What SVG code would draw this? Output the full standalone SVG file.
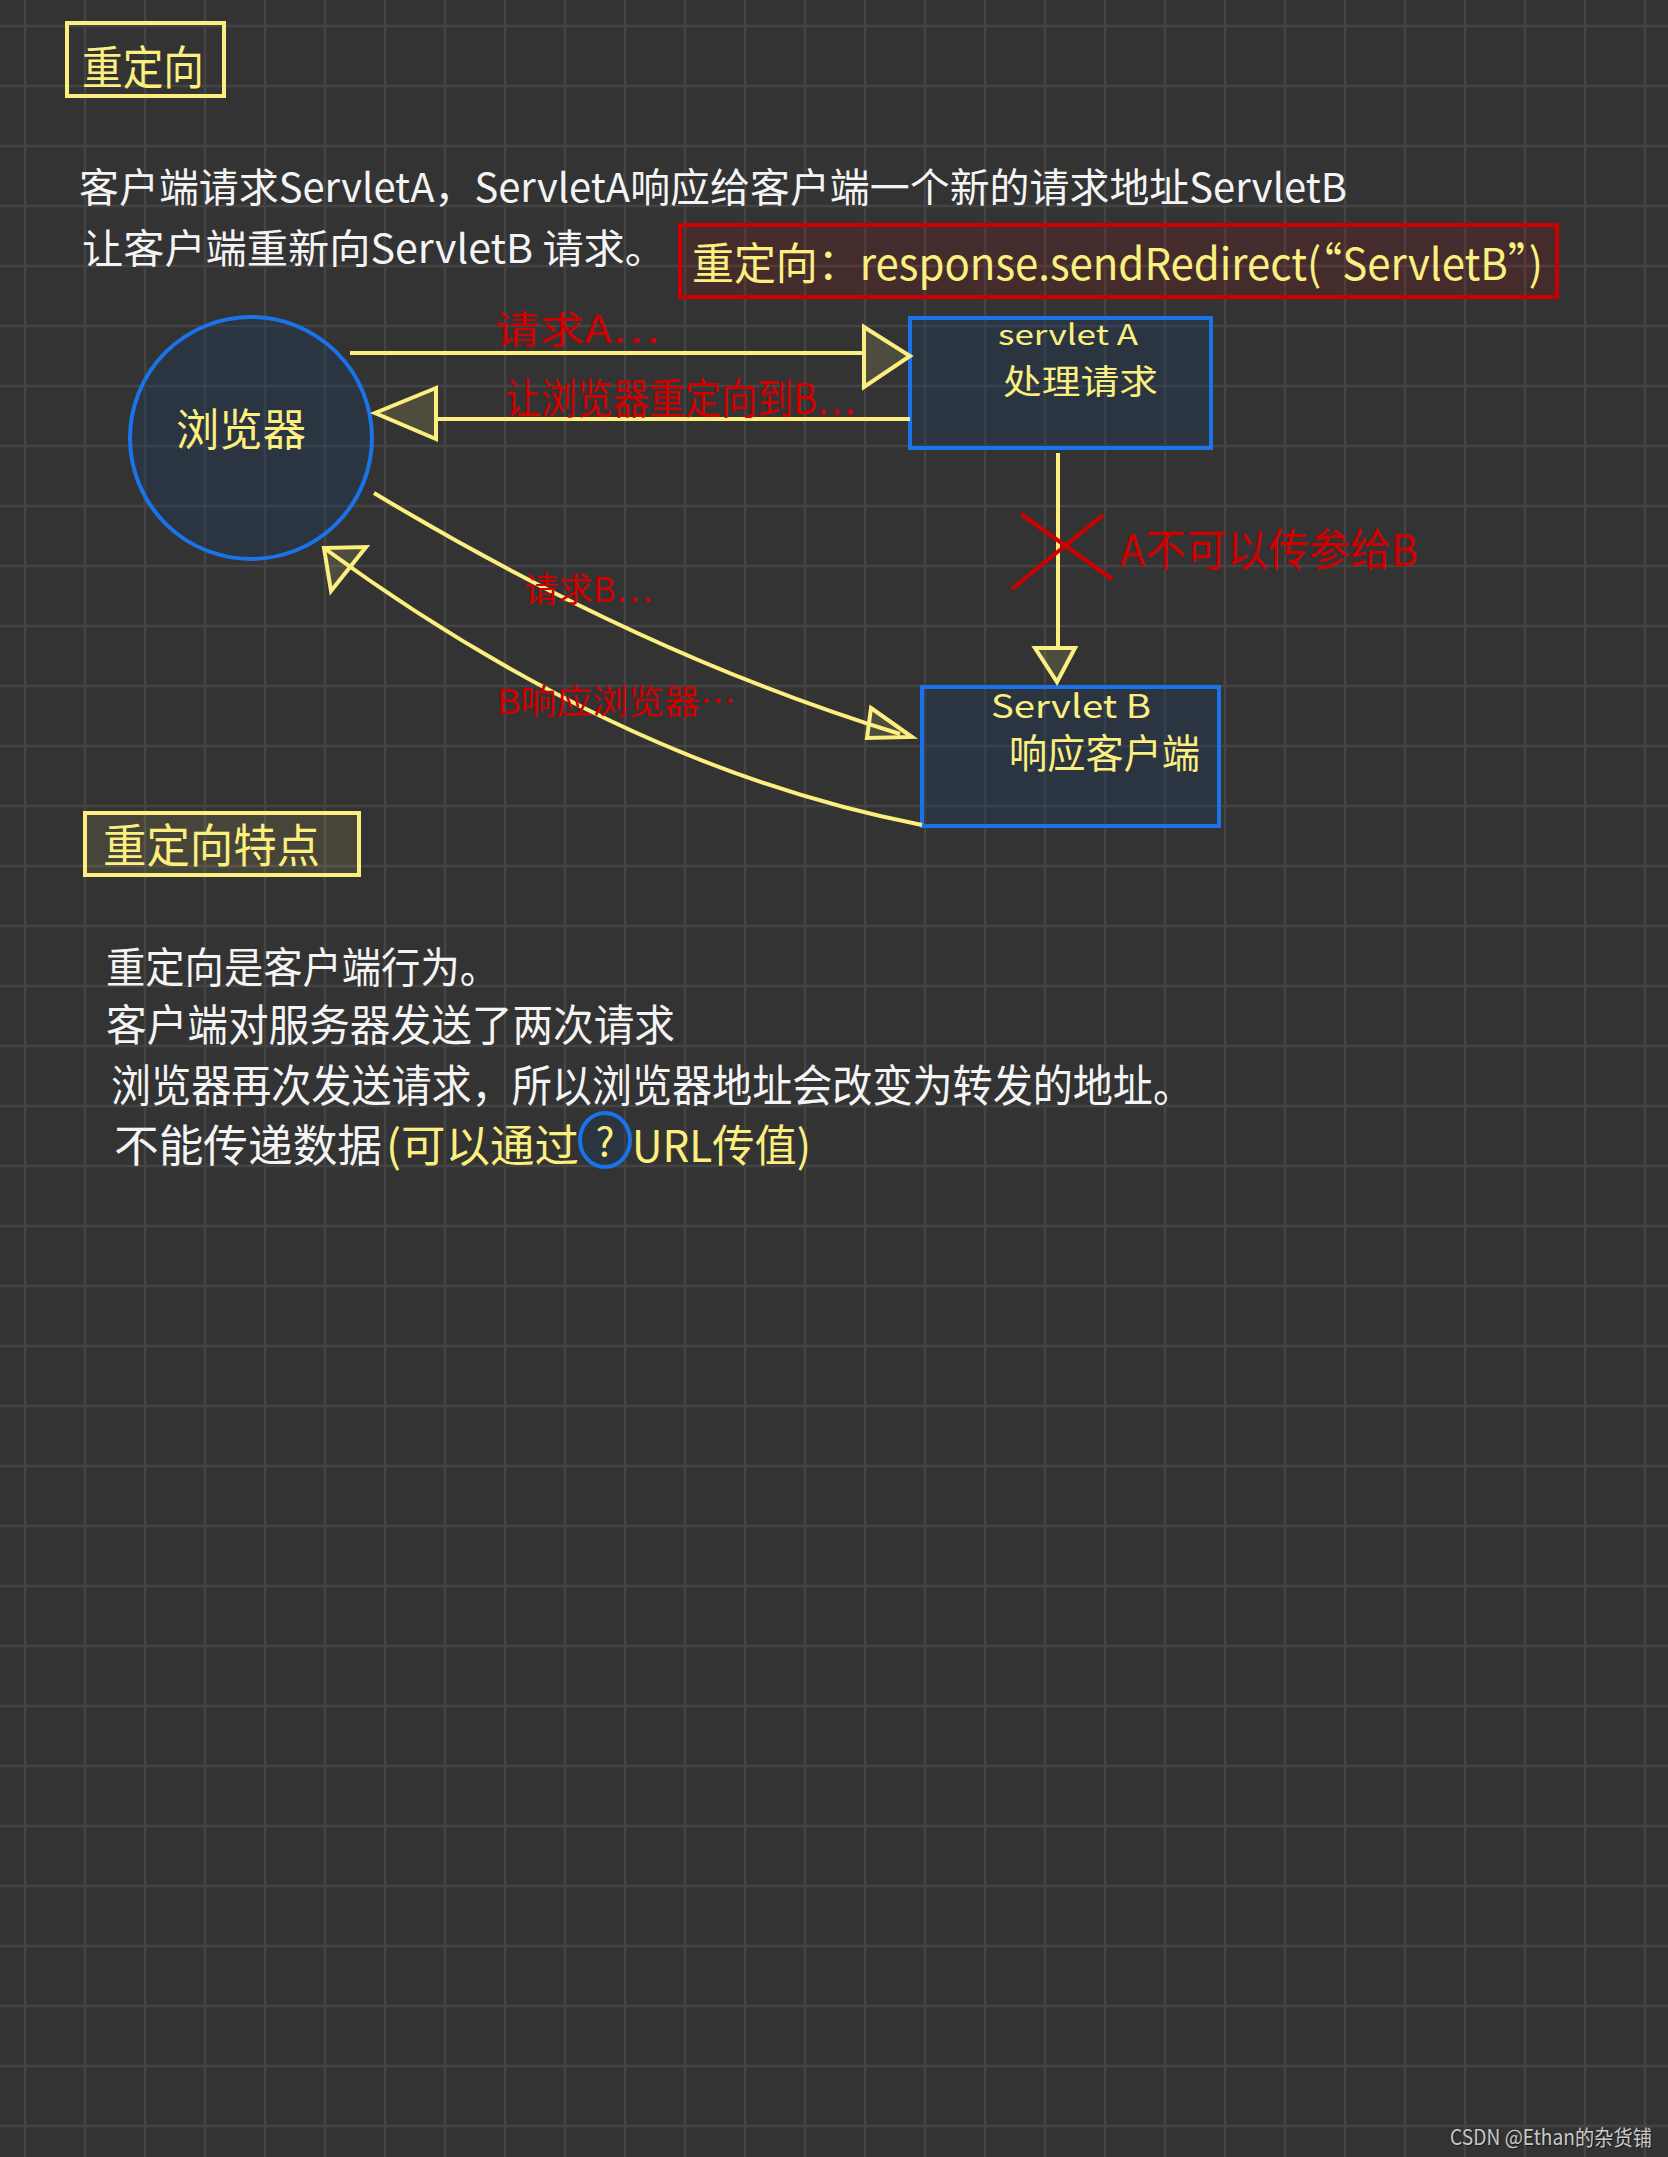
<svg xmlns="http://www.w3.org/2000/svg" width="1668" height="2157" viewBox="0 0 1668 2157">
<style>
  text { font-family: "Noto Sans CJK SC", "Liberation Sans", sans-serif; }
  .w { fill: #f4f4f4; }
  .y { fill: #fbef7f; }
  .r { fill: #d10000; }
  .node { fill: #1b3b66; fill-opacity: 0.3; stroke: #1a73e8; stroke-width: 4; }
  .ybox { fill: none; stroke: #fbef7f; stroke-width: 4; }
  .conn { fill: none; stroke: #fbef7f; stroke-width: 4; }
  .head { fill: #fbef7f; fill-opacity: 0.14; stroke: #fbef7f; stroke-width: 4; stroke-linejoin: miter; }
  .cross { stroke: #d10000; stroke-width: 4; fill: none; }
</style>
<defs>
  <pattern id="grid" x="-5" y="-4" width="60" height="60" patternUnits="userSpaceOnUse">
    <path d="M30 0 V60 M0 30 H60" stroke="#444444" stroke-width="2.5" fill="none"/>
  </pattern>
</defs>
<rect width="1668" height="2157" fill="#333333"/>
<rect width="1668" height="2157" fill="url(#grid)"/>

<g id="title">
  <rect class="ybox" x="67" y="23" width="157" height="73"/>
  <text class="y" x="82" y="84" font-size="46" textLength="122" lengthAdjust="spacingAndGlyphs">重定向</text>
</g>

<g id="intro">
  <text class="w" x="79" y="202" font-size="40" textLength="1268" lengthAdjust="spacingAndGlyphs">客户端请求ServletA，ServletA响应给客户端一个新的请求地址ServletB</text>
  <text class="w" x="82" y="263" font-size="40" textLength="584" lengthAdjust="spacingAndGlyphs">让客户端重新向ServletB 请求。</text>
</g>

<g id="redirect-code">
  <rect x="680" y="225" width="877" height="72" fill="#cc0000" fill-opacity="0.12" stroke="#cc0000" stroke-width="4"/>
  <text class="y" x="692" y="280" font-size="44" textLength="851" lengthAdjust="spacingAndGlyphs">重定向：response.sendRedirect(“ServletB”)</text>
</g>

<g id="browser">
  <circle class="node" cx="251" cy="438" r="121"/>
  <text class="y" x="176" y="446" font-size="44" textLength="130" lengthAdjust="spacingAndGlyphs">浏览器</text>
</g>

<g id="servletA">
  <rect class="node" x="910" y="318" width="301" height="130"/>
  <text class="y" x="998" y="345" font-size="28" textLength="140" lengthAdjust="spacingAndGlyphs">servlet A</text>
  <text class="y" x="1003" y="394" font-size="34" textLength="155" lengthAdjust="spacingAndGlyphs">处理请求</text>
</g>

<g id="servletB">
  <rect class="node" x="922" y="687" width="297" height="139"/>
  <text class="y" x="991" y="718" font-size="32" textLength="160" lengthAdjust="spacingAndGlyphs">Servlet B</text>
  <text class="y" x="1009" y="768" font-size="40" textLength="191" lengthAdjust="spacingAndGlyphs">响应客户端</text>
</g>

<g id="connectors">
  <line class="conn" x1="350" y1="353" x2="864" y2="353"/>
  <polygon class="head" points="864,327 910,356 864,387"/>
  <line class="conn" x1="436" y1="419" x2="910" y2="419"/>
  <polygon class="head" points="436,388 375,413 436,439"/>
  <path class="conn" d="M374 493 Q643 655 900 734"/>
  <polygon class="head" points="871,708 912,737 867,738"/>
  <path class="conn" d="M922 825 Q623 767 324 548"/>
  <polygon class="head" points="324,548 366,547 331,591"/>
  <line class="conn" x1="1058" y1="453" x2="1058" y2="650"/>
  <polygon class="head" points="1035,648 1075,648 1057,682"/>
  <line class="cross" x1="1021" y1="514" x2="1112" y2="579"/>
  <line class="cross" x1="1103" y1="515" x2="1012" y2="589"/>
</g>

<g id="labels">
  <text class="r" x="495" y="343" font-size="38" textLength="164" lengthAdjust="spacingAndGlyphs">请求A…</text>
  <text class="r" x="505" y="414" font-size="42" textLength="350" lengthAdjust="spacingAndGlyphs">让浏览器重定向到B…</text>
  <text class="r" x="524" y="602" font-size="34" textLength="128" lengthAdjust="spacingAndGlyphs">请求B…</text>
  <text class="r" x="497" y="714" font-size="34" textLength="239" lengthAdjust="spacingAndGlyphs">B响应浏览器…</text>
  <text class="r" x="1120" y="566" font-size="44" textLength="298" lengthAdjust="spacingAndGlyphs">A不可以传参给B</text>
</g>

<g id="features-title">
  <rect x="85" y="813" width="274" height="62" fill="#fbef7f" fill-opacity="0.1" stroke="#fbef7f" stroke-width="4"/>
  <text class="y" x="103" y="862" font-size="46" textLength="217" lengthAdjust="spacingAndGlyphs">重定向特点</text>
</g>

<g id="features">
  <text class="w" x="106" y="983" font-size="42" textLength="393" lengthAdjust="spacingAndGlyphs">重定向是客户端行为。</text>
  <text class="w" x="106" y="1041" font-size="43" textLength="569" lengthAdjust="spacingAndGlyphs">客户端对服务器发送了两次请求</text>
  <text class="w" x="111" y="1102" font-size="44" textLength="1082" lengthAdjust="spacingAndGlyphs">浏览器再次发送请求，所以浏览器地址会改变为转发的地址。</text>
  <text class="w" x="114" y="1162" font-size="44" textLength="268" lengthAdjust="spacingAndGlyphs">不能传递数据</text>
  <text class="y" x="386" y="1162" font-size="44" textLength="193" lengthAdjust="spacingAndGlyphs">(可以通过</text>
  <ellipse cx="605" cy="1140" rx="25" ry="27" fill="#1b3b66" fill-opacity="0.3" stroke="#1a73e8" stroke-width="4"/>
  <text class="y" x="605" y="1156" font-size="40" text-anchor="middle">?</text>
  <text class="y" x="632" y="1162" font-size="44" textLength="179" lengthAdjust="spacingAndGlyphs">URL传值)</text>
</g>

<g id="watermark">
  <text x="1451" y="2146" font-size="21" fill="#000000" fill-opacity="0.5" textLength="202" lengthAdjust="spacingAndGlyphs">CSDN @Ethan的杂货铺</text>
  <text x="1450" y="2145" font-size="21" fill="#c8c8c8" textLength="202" lengthAdjust="spacingAndGlyphs">CSDN @Ethan的杂货铺</text>
</g>
</svg>
